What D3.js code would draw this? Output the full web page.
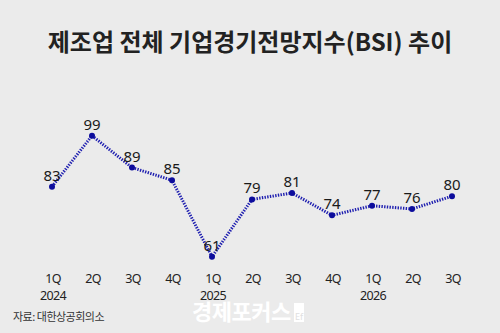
<!DOCTYPE html>
<html><head><meta charset="utf-8">
<script src="https://cdn.jsdelivr.net/npm/d3@7"></script>
<style>
html,body{margin:0;padding:0;background:#ebebeb;}
svg{display:block;}
</style></head>
<body>
<svg id="c" width="500" height="333"></svg>
<script>
const quarters = ["1Q","2Q","3Q","4Q","1Q","2Q","3Q","4Q","1Q","2Q","3Q"];
const years = ["2024","","","","2025","","","","2026","",""];
const values = [83,99,89,85,61,79,81,74,77,76,80];
const title = "제조업 전체 기업경기전망지수(BSI) 추이";
const source = "자료: 대한상공회의소";

const svg = d3.select("#c");
svg.append("rect").attr("width",500).attr("height",333).attr("fill","#ebebeb");

const idx = d3.range(values.length);
const x = d3.scaleLinear().domain([0, values.length-1]).range([52, 452]);
const y = d3.scaleLinear().domain([61, 99]).range([256.7, 135.7]);

svg.append("text").attr("x",250).attr("y",51).attr("text-anchor","middle")
  .attr("font-family","'Noto Sans CJK KR', sans-serif").attr("font-weight",700)
  .attr("font-size",24).attr("fill","#222").attr("letter-spacing",0).text(title);

const line = d3.line().x(i=>x(i)).y(i=>y(values[i]));
svg.append("path").datum(idx).attr("d",line).attr("fill","none")
  .attr("stroke","#1f1fb0").attr("stroke-width",3).attr("stroke-dasharray","1.4,1.3");

svg.selectAll("circle.pt").data(idx).enter().append("circle")
  .attr("cx",i=>x(i)).attr("cy",i=>y(values[i])).attr("r",3).attr("fill","#0c0c9c");

svg.selectAll("text.val").data(idx).enter().append("text")
  .attr("x",i=>x(i)).attr("y",i=>y(values[i])-6).attr("text-anchor","middle")
  .attr("font-family","'Noto Sans', sans-serif").attr("font-size",15).attr("fill","#1a1a1a")
  .text(i=>values[i]);

const xAxis = svg.append("g").attr("transform","translate(0,283)");
xAxis.selectAll("text.q").data(idx).enter().append("text")
  .attr("x",i=>x(i)+1).attr("y",0).attr("text-anchor","middle")
  .attr("font-family","'Noto Sans', sans-serif").attr("font-size",12.5).attr("fill","#222")
  .attr("letter-spacing",-0.6).text(i=>quarters[i]);
xAxis.selectAll("text.y").data(idx.filter(i=>years[i])).enter().append("text")
  .attr("x",i=>x(i)+1).attr("y",17).attr("text-anchor","middle")
  .attr("font-family","'Noto Sans', sans-serif").attr("font-size",12.5).attr("fill","#222")
  .attr("letter-spacing",-0.6).text(i=>years[i]);

svg.append("text").attr("x",13).attr("y",321)
  .attr("font-family","'Noto Sans CJK KR', sans-serif").attr("font-size",11).attr("fill","#333")
  .attr("letter-spacing",-0.5).text(source);

// watermark
svg.append("text").attr("x",192).attr("y",320)
  .attr("font-family","'Noto Sans CJK KR', sans-serif").attr("font-weight",700)
  .attr("font-size",22).attr("fill","#ffffff").attr("letter-spacing",-0.5).text("경제포커스");
svg.append("rect").attr("x",294).attr("y",303).attr("width",10).attr("height",19).attr("fill","#ffffff");
svg.append("text").attr("x",299).attr("y",320).attr("text-anchor","middle")
  .attr("font-family","'Noto Sans', sans-serif").attr("font-size",9).attr("fill","#e0e0e0").text("Ef");
</script>
</body></html>
